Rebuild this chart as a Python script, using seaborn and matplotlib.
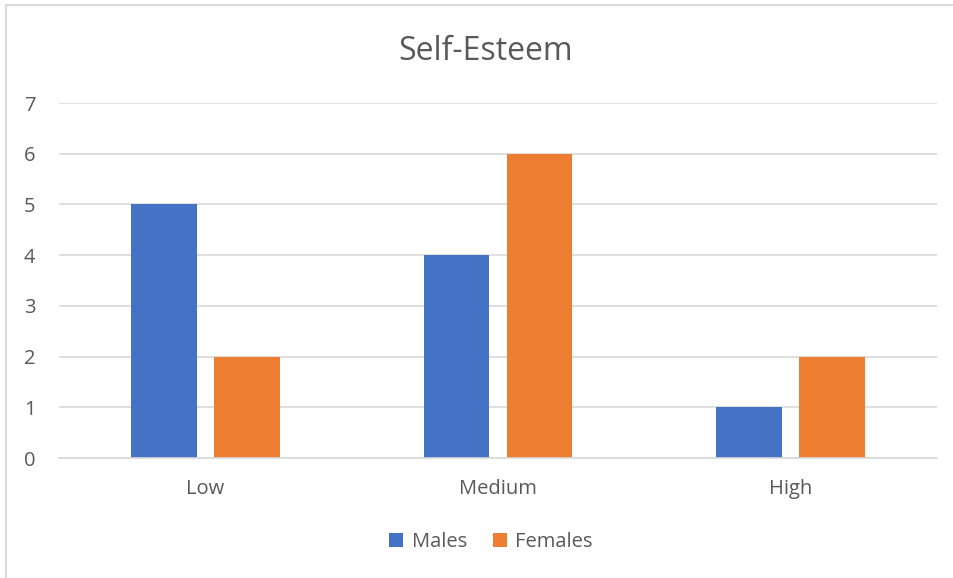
import pandas as pd
import seaborn as sns
import matplotlib.pyplot as plt
from matplotlib.patches import Rectangle

# Datos
categorias = ["Low", "Medium", "High"]
males = [5, 4, 1]
females = [2, 6, 2]
grupos = ["Males", "Females"]

df = pd.DataFrame({
    "nivel": categorias * 2,
    "valor": males + females,
    "grupo": ["Males"] * 3 + ["Females"] * 3,
})

sns.set_style("white")
plt.rcParams["font.family"] = ["Open Sans", "DejaVu Sans"]

fig = plt.figure(figsize=(9.54, 5.78), dpi=100)
ax = fig.add_axes([59 / 954, 1 - 458 / 578, (937 - 59) / 954, (458 - 103) / 578])

sns.barplot(data=df, x="nivel", y="valor", hue="grupo", order=categorias,
            hue_order=grupos, palette=["#4472C4", "#ED7D31"],
            width=0.567, gap=0.205, saturation=1, linewidth=0,
            ax=ax, legend=True)

ax.set_ylim(0, 7)
ax.set_xlim(-0.5, 2.5)
ax.set_yticks(range(0, 8))
ax.yaxis.grid(True, color="#D9D9D9", linewidth=1.2)
ax.set_axisbelow(True)
for s in ["top", "right", "left"]:
    ax.spines[s].set_visible(False)
ax.spines["bottom"].set_color("#D9D9D9")
ax.spines["bottom"].set_linewidth(1.2)
ax.tick_params(axis="both", length=0, labelsize=14.5, labelcolor="#595959")
ax.tick_params(axis="y", pad=17)
ax.tick_params(axis="x", pad=15)
ax.set_xlabel("")
ax.set_ylabel("")

fig.text(486 / 954, 1 - 51 / 578, "Self-Esteem", ha="center", va="center",
         fontsize=23, color="#595959")

handles, labels = ax.get_legend_handles_labels()
ax.legend(handles, labels, loc="center",
          bbox_to_anchor=(491 / 954, 1 - 542 / 578),
          bbox_transform=fig.transFigure, ncol=2, frameon=False, fontsize=14.5,
          labelcolor="#595959", handlelength=0.7, handleheight=0.7,
          handletextpad=0.4, columnspacing=1.3)

# Borde del grafico
fig.patches.append(Rectangle((6.5 / 954, -0.1), 1.2, 1 - 5.5 / 578 + 0.1,
                             transform=fig.transFigure, fill=False,
                             edgecolor="#D9D9D9", linewidth=1.5))

fig.savefig("out.png", dpi=100)
